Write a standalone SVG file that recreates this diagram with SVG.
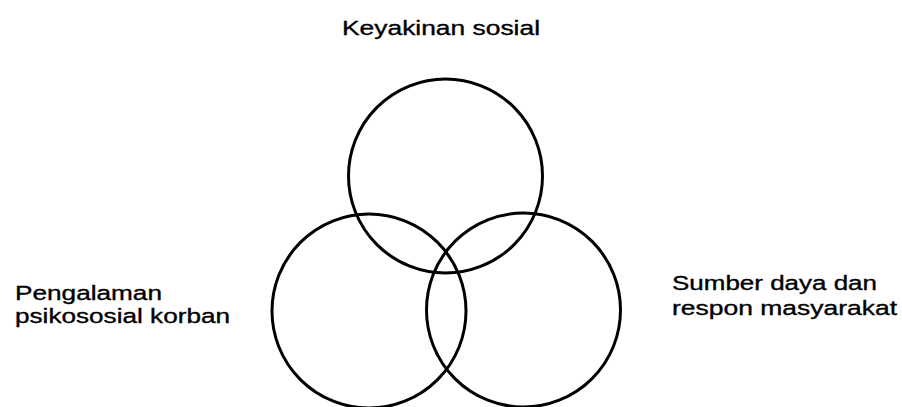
<svg xmlns="http://www.w3.org/2000/svg" width="902" height="407" viewBox="0 0 902 407">
<style>
.c{fill:none;stroke:#000;stroke-width:3}
.t{font-family:"Liberation Sans",Arial,sans-serif;font-size:20.5px;fill:#000;stroke:#000;stroke-width:0.35}
</style>
<rect width="902" height="407" fill="#fff"/>
<g id="keyakinan">
<circle class="c" cx="445.5" cy="176" r="97"/>
<text class="t" x="342" y="35" textLength="198" lengthAdjust="spacingAndGlyphs">Keyakinan sosial</text>
</g>
<g id="pengalaman">
<circle class="c" cx="369" cy="311" r="97"/>
<text class="t" x="15" y="300" textLength="147" lengthAdjust="spacingAndGlyphs">Pengalaman</text>
<text class="t" x="15" y="323" textLength="215" lengthAdjust="spacingAndGlyphs">psikososial korban</text>
</g>
<g id="sumber">
<circle class="c" cx="523.5" cy="310" r="97"/>
<text class="t" x="672" y="289.5" textLength="205" lengthAdjust="spacingAndGlyphs">Sumber daya dan</text>
<text class="t" x="672" y="314.5" textLength="225" lengthAdjust="spacingAndGlyphs">respon masyarakat</text>
</g>
<g id="connectors"></g>
</svg>
